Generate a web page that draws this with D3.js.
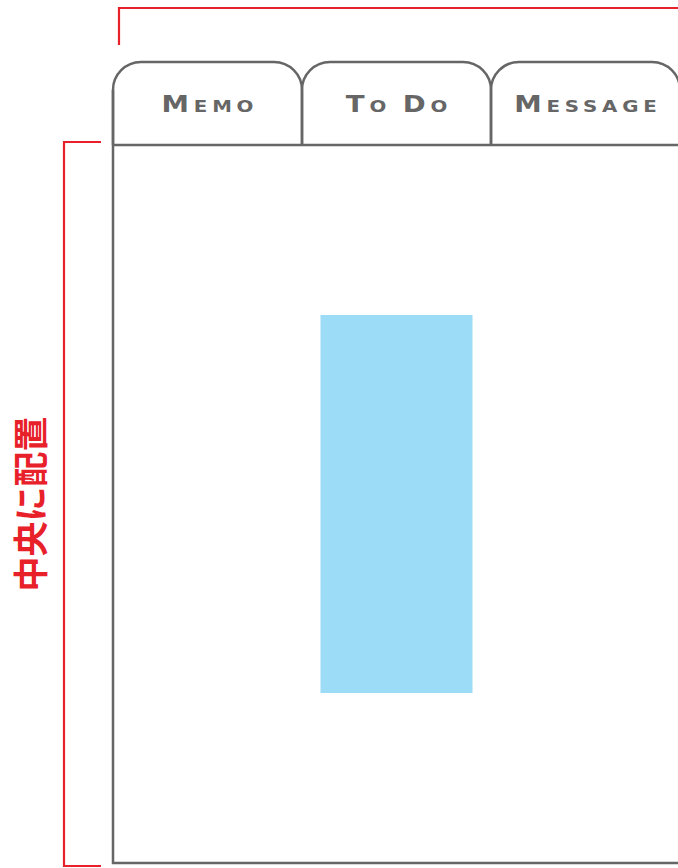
<!DOCTYPE html>
<html><head><meta charset="utf-8">
<script src="https://cdn.jsdelivr.net/npm/d3@7"></script>
<style>html,body{margin:0;padding:0;background:#fff;overflow:hidden}</style>
</head><body>
<svg id="c" width="678" height="868"></svg>
<script>
const tabLabels = ["Memo", "To Do", "Message"];
// small-caps rendering: [text, isCapital]
const tabParts = [
  [["M", true], ["EMO", false]],
  [["T", true], ["O ", false], ["D", true], ["O", false]],
  [["M", true], ["ESSAGE", false]]
];
const annotation = "中央に配置";
const gray = "#666666", red = "#e8202a", blue = "#9ddcf7";

const svg = d3.select("#c");
const x = d3.scaleBand().domain(tabLabels).range([113, 680]).paddingInner(0);
const panelTop = 145, panelBottom = 863, tabTop = 62, r = 28;
const y = d3.scaleLinear().domain([0, 1]).range([panelTop, panelBottom]);

const ls = 4, sx = 1.2;
tabLabels.forEach((t, i) => {
  const x0 = x(t), x1 = x(t) + x.bandwidth();
  const p = d3.path();
  p.moveTo(x0, panelTop);
  p.lineTo(x0, tabTop + r);
  p.arcTo(x0, tabTop, x0 + r, tabTop, r);
  p.lineTo(x1 - r, tabTop);
  p.arcTo(x1, tabTop, x1, tabTop + r, r);
  p.lineTo(x1, panelTop);
  svg.append("path").attr("d", p.toString()).attr("fill", "none")
    .attr("stroke", gray).attr("stroke-width", 2.5);
  const txt = svg.append("text")
    .attr("transform", `translate(${x0 + x.bandwidth() / 2 + ls * sx / 2},112) scale(${sx},1)`)
    .attr("text-anchor", "middle").attr("fill", gray)
    .attr("font-family", "DejaVu Sans").attr("font-weight", "bold")
    .attr("letter-spacing", ls);
  tabParts[i].forEach(([s, big]) => {
    txt.append("tspan").attr("font-size", big ? 23 : 16.5).text(s);
  });
});

// panel
const pl = x.range()[0], pr = x.range()[1];
svg.append("path")
  .attr("d", `M${pl},${panelTop}L${pr},${panelTop}M${pl},${tabTop + r}L${pl},${panelBottom}L${pr},${panelBottom}`)
  .attr("fill", "none").attr("stroke", gray).attr("stroke-width", 2.5);

// centered block
const bw = 152, bh = 378;
const cx = (pl + pr) / 2, cy = y(0.5);
svg.append("rect").attr("x", cx - bw / 2).attr("y", cy - bh / 2)
  .attr("width", bw).attr("height", bh).attr("fill", blue);

// red brackets
svg.append("path").attr("d", "M119,45L119,8L680,8").attr("fill", "none")
  .attr("stroke", red).attr("stroke-width", 2.2);
svg.append("path").attr("d", "M101,142L64,142L64,866L101,866").attr("fill", "none")
  .attr("stroke", red).attr("stroke-width", 2.2);

svg.append("text").attr("transform", `translate(44,${(142 + 866) / 2}) rotate(-90)`)
  .attr("text-anchor", "middle").attr("fill", red)
  .attr("font-family", "Noto Sans CJK JP").attr("font-weight", 700).attr("font-size", 35)
  .text(annotation);
</script>
</body></html>
